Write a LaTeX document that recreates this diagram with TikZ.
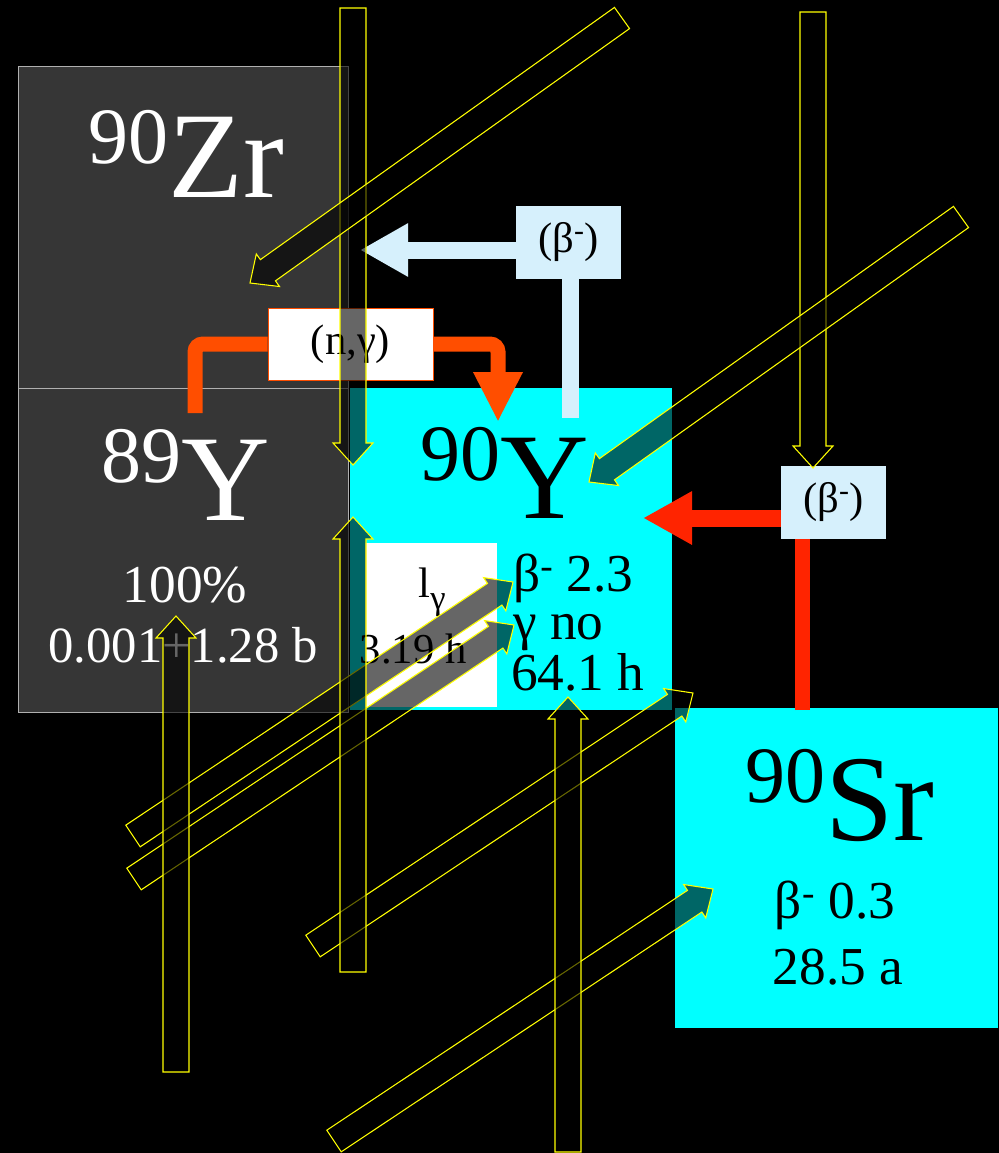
\documentclass[tikz,border=0pt]{standalone}
\usepackage{fontspec}
\setmainfont{Liberation Serif}
\usetikzlibrary{calc,arrows.meta}
\definecolor{boxgray}{HTML}{363636}
\definecolor{boxedge}{HTML}{B0B0B0}
\definecolor{isocyan}{HTML}{00FFFF}
\definecolor{ngred}{HTML}{FF4E00}
\definecolor{betared}{HTML}{FF2400}
\definecolor{betablue}{HTML}{D6F0FC}
\definecolor{ylw}{HTML}{FFFF00}
\newcommand\isotope[5]{{\fontsize{#3}{#3}\selectfont\raisebox{#5}{#1}}{\fontsize{#4}{#4}\selectfont #2}}
\newcommand\yblock[2]{%
  \coordinate (hb) at ($(#2)!16.5pt!(#1)$);
  \draw[yarrow] ($(#1)!9.75pt!90:(#2)$) -- ($(hb)!9.75pt!90:(#2)$) -- ($(hb)!15pt!90:(#2)$) -- (#2)
    -- ($(hb)!15pt!-90:(#2)$) -- ($(hb)!9.75pt!-90:(#2)$) -- ($(#1)!9.75pt!-90:(#2)$) -- cycle;}
\begin{document}
\begin{tikzpicture}[x=0.75pt,y=-0.75pt,
  isobox/.style={rectangle,inner sep=0pt,outer sep=0pt},
  graybox/.style={isobox,fill=boxgray,draw=boxedge,line width=0.75pt},
  cyanbox/.style={isobox,fill=isocyan},
  whitebox/.style={isobox,fill=white},
  lbl/.style={inner sep=0pt,font=\fontsize{32}{32}\selectfont},
  info/.style={inner sep=0pt,font=\fontsize{40}{40}\selectfont},
  ngline/.style={draw=ngred,line width=11.25pt,rounded corners=6pt},
  blueline/.style={draw=betablue,line width=12.75pt},
  redline/.style={draw=betared,line width=11.25pt},
  yarrow/.style={draw=ylw,line width=0.8pt,fill=black,fill opacity=0.6,line join=miter}]
\fill[black] (0,0) rectangle (999,1153);
\useasboundingbox (0,0) rectangle (999,1153);
% isotope boxes
\node[graybox,minimum width=247.5pt,minimum height=241.5pt] (zr) at (183,227) {};
\node[graybox,minimum width=247.5pt,minimum height=243pt] (y89) at (183,550) {};
\node[cyanbox,minimum width=241.5pt,minimum height=241.5pt] (y90) at (511,549) {};
\node[whitebox,minimum width=99pt,minimum height=123pt] (ly) at (431,625) {};
\node[cyanbox,minimum width=242.25pt,minimum height=240pt] (sr) at (836.5,868) {};
% texts
\node[anchor=base,text=white,inner sep=0pt] (tzr) at (186,197) {\isotope{90}{Zr}{60}{92}{25.5pt}};
\node[anchor=base,text=white,inner sep=0pt] (ty89) at (186,520) {\isotope{89}{Y}{60}{92}{28pt}};
\node[anchor=base,text=white,info] (t100) at (185,602) {100\%};
\node[anchor=base,text=white,info,font=\fontsize{38}{38}\selectfont] (tsig) at (183,662) {0.001+1.28 b};
\node[anchor=base,inner sep=0pt] (ty90) at (505,518) {\isotope{90}{Y}{60}{92}{28pt}};
\node[anchor=base,lbl] (tl) at (432,597) {l{\fontsize{26}{26}\selectfont\raisebox{-9pt}{γ}}};
\node[anchor=base,lbl] (t319) at (413,663) {3.19 h};
\node[anchor=base west,info] (tb23) at (513,591) {β\textsuperscript{-} 2.3};
\node[anchor=base west,info] (tgno) at (513,639) {γ no};
\node[anchor=base west,info] (t641) at (511,690) {64.1 h};
\node[anchor=base,inner sep=0pt] (tsr) at (840,840) {\isotope{90}{Sr}{60}{92}{28pt}};
\node[anchor=base,info] (tb03) at (835,918) {β\textsuperscript{-} 0.3};
\node[anchor=base,info] (t285) at (838,984) {28.5 a};
% (n,gamma) path
\coordinate (ngs) at (195,413);
\coordinate (ngt) at (498,422);
\node[fill=white,draw=ngred,line width=0.75pt,minimum width=123.75pt,minimum height=54pt,inner sep=0pt,lbl] (ngbox) at (350.5,344) {(n,γ)};
\draw[ngline] (ngs) |- (ngbox.west);
\draw[ngline,-{Triangle[length=37.5pt,width=34.5pt]}] (ngbox.east) -| (ngt);
\node[fill=white,draw=ngred,line width=0.75pt,minimum width=123.75pt,minimum height=54pt,inner sep=0pt,lbl] at (ngbox) {(n,γ)};
% beta from 90Y to 90Zr
\node[fill=betablue,minimum width=78.75pt,minimum height=54.75pt,inner sep=0pt,lbl] (bbox) at (568.5,242.5) {(β\textsuperscript{-})};
\coordinate (bstart) at (570,418);
\coordinate (btip) at (360,250);
\draw[blueline] (bstart) -- (bstart |- bbox.south);
\draw[blueline,-{Triangle[length=36pt,width=37.5pt]}] (bbox.west |- btip) -- (btip);
% beta from 90Sr to 90Y
\node[fill=betablue,minimum width=78.75pt,minimum height=54.75pt,inner sep=0pt,lbl] (rbox) at (833.5,502.5) {(β\textsuperscript{-})};
\coordinate (rstart) at (802,710);
\coordinate (rtip) at (643,518);
\draw[redline] (rstart) -- (rstart |- rbox.south);
\draw[redline,line width=12.75pt,-{Triangle[length=36.75pt,width=37.5pt]}] (rbox.west |- rtip) -- (rtip);
% yellow block arrows
\coordinate (a1s) at (353,8);   \coordinate (a1t) at (353,465);
\coordinate (a2s) at (353,972); \coordinate (a2t) at (353,517);
\coordinate (a3s) at (813,12);  \coordinate (a3t) at (813,468);
\coordinate (a4s) at (176,1072);\coordinate (a4t) at (176,616);
\coordinate (a5s) at (568,1152);\coordinate (a5t) at (568,697);
\coordinate (d1s) at (622,18);  \coordinate (d1t) at (250,283);
\coordinate (d2s) at (961,217); \coordinate (d2t) at (589,482);
\coordinate (d3s) at (133,836); \coordinate (d3t) at (513,582);
\coordinate (d4s) at (134,879); \coordinate (d4t) at (514,625);
\coordinate (d5s) at (313,946); \coordinate (d5t) at (693,693);
\coordinate (d6s) at (334,1141);\coordinate (d6t) at (713,889);
\yblock{d3s}{d3t}
\yblock{d4s}{d4t}
\yblock{d5s}{d5t}
\yblock{d6s}{d6t}
\yblock{a4s}{a4t}
\yblock{a5s}{a5t}
\yblock{a1s}{a1t}
\yblock{a2s}{a2t}
\yblock{d1s}{d1t}
\yblock{a3s}{a3t}
\yblock{d2s}{d2t}
\end{tikzpicture}
\end{document}
